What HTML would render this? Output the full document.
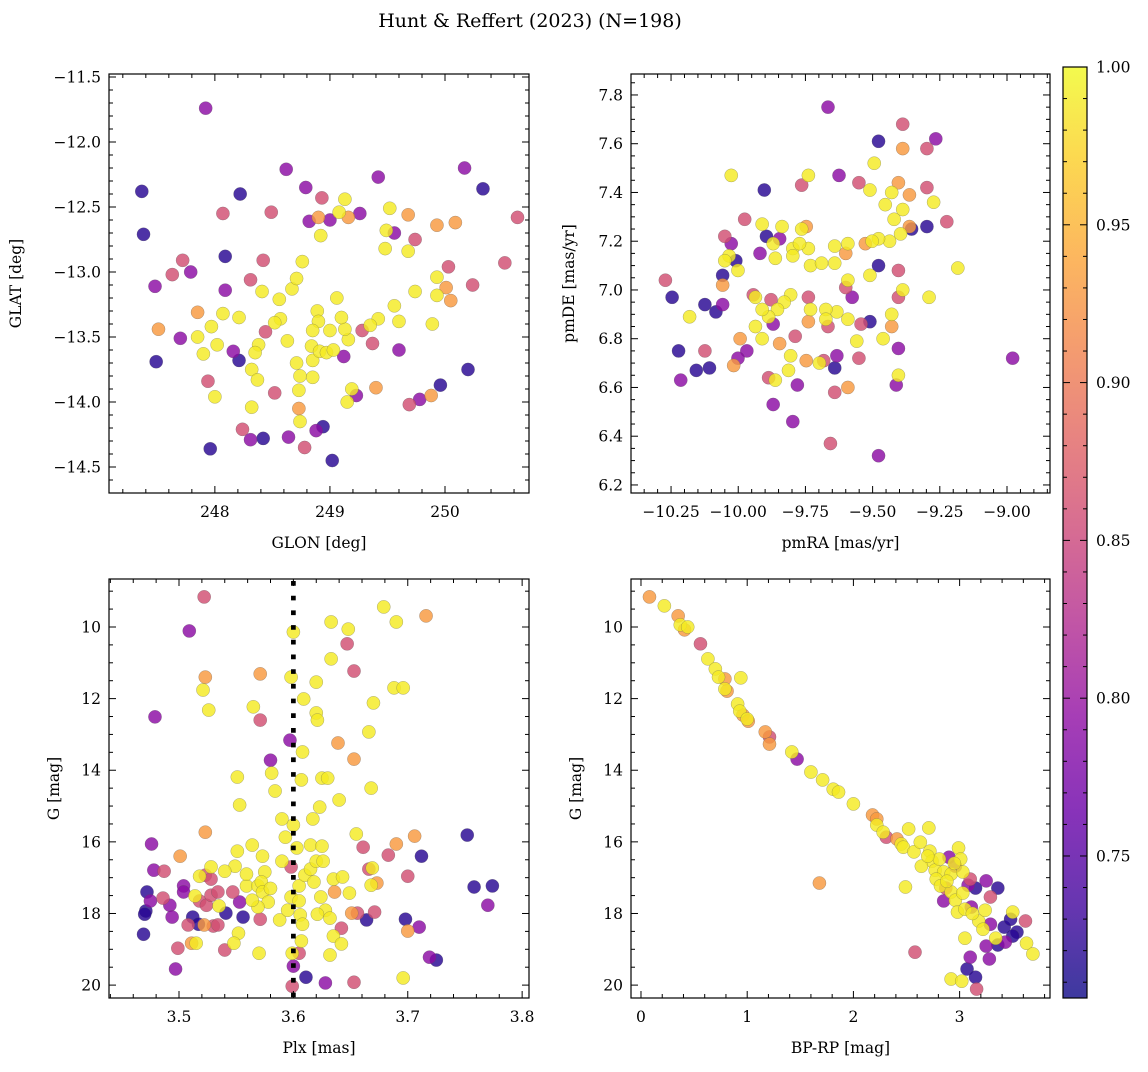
<!DOCTYPE html>
<html><head><meta charset="utf-8"><style>
body{margin:0;background:#fff;}
svg{font-family:"DejaVu Serif","Liberation Serif",serif;}
</style></head><body>
<svg id="fig" width="1148" height="1067" viewBox="0 0 1148 1067">
<defs><linearGradient id="cb" x1="0" y1="1" x2="0" y2="0">
<stop offset="0" stop-color="#0d0887"/><stop offset="0.1" stop-color="#41049d"/><stop offset="0.2" stop-color="#6a00a8"/><stop offset="0.3" stop-color="#8f0da4"/><stop offset="0.4" stop-color="#b12a90"/><stop offset="0.5" stop-color="#cc4778"/><stop offset="0.6" stop-color="#e16462"/><stop offset="0.7" stop-color="#f2844b"/><stop offset="0.8" stop-color="#fca636"/><stop offset="0.9" stop-color="#fcce25"/><stop offset="1" stop-color="#f0f921"/>
</linearGradient></defs>
<text x="530" y="27" font-size="19" text-anchor="middle">Hunt &amp; Reffert (2023) (N=198)</text>
</svg>
<script>
// ---- data (panel 1: GLON/GLAT) ----
const glon=[247.92,247.365,247.38,248.62,248.79,248.22,248.49,248.07,248.42,247.72,247.63,247.79,247.48,247.49,247.70,247.51,247.85,247.85,248.07,248.21,248.09,248.09,248.31,248.41,248.67,248.71,248.76,248.92,248.93,249.13,249.08,248.90,248.82,249.00,249.16,249.26,249.42,249.52,249.49,249.68,249.56,249.48,249.74,249.68,249.93,250.01,250.03,249.93,250.09,250.17,250.33,250.63,250.52,250.24,250.05,249.93,249.89,249.74,249.56,249.60,249.42,249.35,249.28,249.16,249.13,249.10,248.89,248.90,248.85,248.84,248.71,248.63,248.57,248.56,248.52,248.44,248.38,248.35,248.32,248.37,248.21,248.16,248.02,247.97,247.90,247.94,248.00,247.96,248.24,248.32,248.31,248.42,248.52,248.64,248.74,248.73,248.73,248.74,248.85,248.85,248.91,248.97,249.03,249.00,249.06,248.94,248.88,248.78,249.02,249.40,249.23,249.15,249.96,249.88,250.20,249.60,249.37,249.12,249.19,249.69,249.78];
const glat=[-11.74,-12.38,-12.71,-12.21,-12.35,-12.40,-12.54,-12.55,-12.91,-12.91,-13.02,-13.00,-13.11,-13.69,-13.51,-13.44,-13.31,-13.50,-13.32,-13.35,-13.14,-12.88,-13.06,-13.15,-13.13,-13.05,-12.92,-12.72,-12.43,-12.44,-12.54,-12.58,-12.61,-12.60,-12.58,-12.55,-12.27,-12.51,-12.68,-12.56,-12.70,-12.82,-12.75,-12.84,-13.04,-13.12,-12.96,-12.64,-12.62,-12.20,-12.36,-12.58,-12.93,-13.10,-13.22,-13.18,-13.40,-13.15,-13.26,-13.38,-13.36,-13.41,-13.45,-13.52,-13.44,-13.35,-13.30,-13.38,-13.45,-13.57,-13.70,-13.53,-13.36,-13.21,-13.39,-13.46,-13.56,-13.62,-13.75,-13.83,-13.68,-13.61,-13.56,-13.42,-13.63,-13.84,-13.96,-14.36,-14.21,-14.04,-14.29,-14.28,-13.93,-14.27,-14.15,-14.05,-13.91,-13.80,-13.81,-13.68,-13.61,-13.62,-13.60,-13.45,-13.20,-14.19,-14.22,-14.35,-14.45,-13.89,-13.95,-14.00,-13.87,-13.95,-13.75,-13.60,-13.55,-13.65,-13.90,-14.02,-13.98];
const prob1=[.79,.72,.72,.79,.79,.72,.86,.86,.86,.86,.86,.79,.79,.72,.79,.93,.93,.99,.99,.99,.79,.72,.86,.99,.99,.99,.99,.99,.86,.99,.99,.93,.79,.79,.93,.79,.79,.99,.99,.93,.79,.99,.86,.99,.99,.93,.86,.93,.93,.79,.72,.86,.86,.86,.93,.99,.99,.99,.99,.99,.99,.99,.86,.99,.99,.99,.99,.99,.99,.99,.99,.99,.99,.99,.99,.86,.99,.99,.99,.99,.72,.79,.99,.99,.99,.86,.99,.72,.86,.99,.79,.72,.86,.79,.99,.93,.99,.99,.99,.99,.99,.99,.99,.99,.99,.72,.79,.86,.72,.93,.79,.99,.72,.93,.72,.79,.86,.79,.99,.86,.79];
// ---- panel 2: pmRA/pmDE ----
const pmra=[-9.666,-9.478,-9.388,-9.265,-9.298,-9.388,-9.494,-10.026,-9.903,-9.739,-9.764,-9.625,-9.551,-9.510,-9.429,-9.404,-9.363,-9.298,-9.273,-9.388,-9.453,-9.420,-9.363,-9.355,-9.298,-9.224,-9.396,-9.437,-9.478,-9.502,-9.527,-9.592,-9.641,-9.739,-9.797,-9.870,-9.895,-9.846,-9.772,-9.764,-9.747,-9.837,-9.911,-9.976,-10.050,-10.026,-10.009,-10.034,-10.001,-10.050,-10.058,-9.919,-9.862,-9.797,-9.731,-9.690,-9.641,-9.600,-9.592,-9.510,-9.478,-9.600,-9.404,-9.183,-9.290,-9.404,-9.388,-9.576,-9.633,-9.674,-9.731,-9.739,-9.805,-9.829,-9.854,-9.887,-9.911,-9.936,-9.944,-9.878,-10.058,-10.058,-10.083,-10.124,-10.181,-10.271,-10.246,-9.936,-9.993,-9.968,-9.911,-9.870,-9.846,-9.788,-9.739,-9.666,-9.592,-9.674,-9.559,-9.543,-9.429,-9.429,-9.461,-9.510,-9.551,-9.633,-9.682,-9.747,-9.805,-9.862,-10.017,-10.001,-10.124,-10.156,-10.107,-9.813,-9.780,-9.698,-9.641,-9.887,-9.870,-9.797,-9.641,-9.592,-9.404,-9.404,-9.412,-9.657,-10.222,-10.214,-8.979,-9.478];
const pmde=[7.75,7.61,7.68,7.62,7.58,7.58,7.52,7.47,7.41,7.47,7.43,7.47,7.44,7.41,7.40,7.44,7.39,7.42,7.36,7.33,7.35,7.29,7.26,7.25,7.26,7.28,7.23,7.20,7.21,7.20,7.19,7.19,7.18,7.17,7.17,7.19,7.22,7.21,7.19,7.25,7.26,7.26,7.27,7.29,7.22,7.19,7.12,7.14,7.08,7.12,7.06,7.15,7.13,7.14,7.10,7.11,7.11,7.15,7.04,7.06,7.10,7.01,7.08,7.09,6.97,6.97,7.00,6.97,6.91,6.92,6.92,6.97,6.98,6.95,6.92,6.89,6.92,6.97,6.98,6.96,7.02,6.94,6.91,6.94,6.89,7.04,6.97,6.85,6.80,6.75,6.80,6.86,6.78,6.81,6.87,6.85,6.88,6.88,6.79,6.86,6.85,6.90,6.80,6.87,6.72,6.73,6.71,6.71,6.73,6.63,6.69,6.72,6.75,6.67,6.68,6.67,6.61,6.70,6.68,6.64,6.53,6.46,6.58,6.60,6.76,6.65,6.61,6.37,6.75,6.63,6.72,6.32];
const prob2=[.79,.72,.86,.79,.86,.93,.99,.99,.72,.99,.86,.79,.86,.99,.99,.93,.93,.86,.99,.99,.99,.99,.93,.72,.72,.86,.99,.99,.99,.99,.93,.99,.99,.99,.99,.99,.72,.79,.99,.99,.93,.99,.99,.86,.86,.79,.72,.99,.99,.99,.72,.79,.99,.99,.99,.99,.99,.93,.99,.99,.72,.86,.86,.99,.99,.86,.99,.79,.99,.99,.99,.86,.99,.99,.99,.99,.99,.99,.86,.86,.93,.79,.72,.72,.99,.86,.72,.99,.93,.79,.99,.79,.93,.86,.93,.86,.99,.99,.99,.86,.93,.99,.99,.72,.86,.79,.86,.93,.99,.99,.93,.79,.86,.72,.72,.99,.79,.99,.72,.86,.79,.79,.86,.93,.79,.99,.79,.86,.72,.79,.79,.79];
// ---- panel 3: Plx/G ----
const plx=[3.522,3.509,3.523,3.521,3.526,3.479,3.571,3.565,3.571,3.600,3.598,3.597,3.580,3.581,3.584,3.633,3.648,3.647,3.679,3.690,3.716,3.633,3.653,3.620,3.609,3.620,3.621,3.608,3.639,3.670,3.666,3.688,3.696,3.625,3.607,3.630,3.653,3.668,3.551,3.553,3.590,3.600,3.593,3.603,3.590,3.573,3.564,3.551,3.549,3.540,3.523,3.501,3.476,3.528,3.523,3.518,3.528,3.504,3.487,3.478,3.472,3.471,3.470,3.469,3.475,3.486,3.492,3.494,3.504,3.514,3.518,3.512,3.508,3.517,3.524,3.528,3.534,3.535,3.522,3.530,3.534,3.515,3.511,3.499,3.497,3.547,3.553,3.541,3.556,3.552,3.548,3.540,3.559,3.569,3.575,3.572,3.573,3.578,3.569,3.564,3.571,3.588,3.595,3.598,3.605,3.605,3.606,3.608,3.607,3.599,3.600,3.605,3.599,3.611,3.570,3.610,3.615,3.618,3.624,3.628,3.621,3.632,3.620,3.615,3.625,3.626,3.635,3.636,3.643,3.649,3.656,3.651,3.642,3.635,3.632,3.642,3.653,3.628,3.655,3.661,3.666,3.669,3.668,3.673,3.671,3.664,3.683,3.690,3.706,3.700,3.698,3.700,3.710,3.712,3.719,3.725,3.696,3.752,3.758,3.774,3.770,3.640,3.623,3.617,3.598,3.559,3.580];
const gmag3=[9.16,10.11,11.40,11.76,12.32,12.51,11.31,12.23,12.60,10.14,11.40,13.16,13.72,14.08,14.58,9.86,10.06,10.47,9.44,9.86,9.69,10.89,11.23,11.54,12.01,12.40,12.60,13.49,13.24,12.12,12.93,11.70,11.70,14.22,14.27,14.22,13.69,14.50,14.19,14.97,15.36,15.53,15.87,16.17,16.54,16.40,16.09,16.26,16.68,16.82,15.73,16.40,16.06,16.70,16.93,16.96,17.04,17.23,16.82,16.79,17.40,17.93,18.02,18.58,17.65,17.57,17.77,18.10,17.40,17.51,17.65,18.10,18.32,18.30,17.77,17.49,17.40,17.79,18.32,18.35,18.32,18.83,18.83,18.97,19.55,17.40,17.68,17.99,18.10,18.55,18.83,19.02,17.23,17.23,16.84,17.12,17.40,17.68,17.82,17.63,18.16,18.18,17.91,17.54,17.23,17.65,18.04,18.30,18.77,19.11,19.47,19.11,20.03,19.78,19.11,16.93,16.76,17.12,17.54,17.91,18.02,18.13,16.54,16.09,16.12,16.54,17.04,17.40,16.98,17.43,17.99,17.99,18.41,18.63,19.16,18.85,19.92,19.94,15.78,16.15,16.76,16.73,17.21,17.15,17.96,18.18,16.37,16.06,15.84,16.96,18.16,18.49,18.38,16.40,19.22,19.30,19.80,15.81,17.26,17.23,17.77,14.83,15.03,15.36,16.70,16.90,17.30];
const prob3=[.86,.79,.93,.99,.99,.79,.93,.99,.86,.99,.99,.79,.79,.99,.99,.99,.99,.86,.99,.99,.93,.99,.86,.99,.99,.99,.99,.99,.93,.99,.99,.99,.99,.99,.99,.99,.93,.99,.99,.99,.99,.99,.99,.99,.99,.99,.99,.99,.99,.99,.93,.93,.79,.99,.86,.99,.86,.79,.86,.79,.72,.72,.72,.72,.79,.86,.79,.79,.79,.99,.86,.72,.86,.72,.86,.86,.86,.99,.93,.86,.86,.99,.93,.86,.79,.86,.79,.72,.72,.99,.99,.86,.99,.99,.99,.99,.99,.99,.99,.99,.86,.99,.99,.99,.99,.99,.99,.99,.99,.99,.79,.86,.86,.72,.99,.99,.99,.99,.99,.99,.99,.99,.99,.99,.99,.99,.99,.93,.99,.99,.86,.93,.86,.99,.99,.99,.86,.79,.99,.86,.86,.99,.99,.93,.86,.72,.86,.93,.93,.86,.72,.93,.79,.72,.79,.72,.99,.72,.72,.72,.79,.99,.99,.99,.86,.99,.99];
// ---- panel 4: BP-RP/G ----
const bprp=[0.08,0.22,0.35,0.37,0.44,0.41,0.56,0.63,0.70,0.73,0.79,0.79,0.94,0.81,0.91,0.93,0.96,1.00,1.01,1.17,1.21,1.21,1.42,1.47,1.60,1.71,1.81,1.86,2.00,2.18,2.22,2.22,2.28,2.31,2.41,2.45,2.52,2.47,2.57,2.63,2.71,2.72,2.74,2.77,2.81,2.85,2.90,2.92,2.96,2.99,3.01,3.03,2.78,2.82,2.87,2.92,2.96,3.03,3.08,3.10,3.15,3.25,3.36,2.85,2.98,3.05,3.11,3.18,3.24,3.29,3.22,3.29,3.34,3.36,3.25,3.28,3.43,3.42,3.48,3.50,3.54,3.50,3.62,3.63,3.69,3.05,3.10,3.07,3.15,2.92,3.02,3.16,2.58,2.49,1.68,2.64,2.95,2.70,2.88,3.12];
const gmag4=[9.16,9.41,9.69,9.94,10.00,10.08,10.47,10.89,11.17,11.40,11.45,11.73,11.42,11.79,12.15,12.35,12.46,12.57,12.63,12.93,13.07,13.27,13.49,13.69,14.05,14.27,14.53,14.61,14.94,15.25,15.36,15.53,15.73,15.87,15.92,16.06,15.64,16.15,16.28,16.01,15.61,16.26,16.54,16.79,16.48,16.84,16.43,16.90,16.68,16.17,16.48,16.84,17.04,17.23,17.29,17.40,17.63,17.43,17.21,17.04,17.29,17.09,17.29,17.65,17.96,17.88,17.82,18.21,17.91,17.54,18.44,18.30,18.69,18.88,18.91,19.27,18.80,18.38,18.16,17.96,18.52,18.63,18.21,18.83,19.13,18.69,19.22,19.55,19.78,19.83,19.89,20.11,19.08,17.26,17.15,16.68,16.60,16.40,17.10,18.00];
const prob4=[.93,.99,.93,.99,.99,.93,.86,.99,.99,.99,.93,.99,.99,.93,.99,.99,.93,.99,.93,.93,.86,.93,.99,.79,.99,.99,.99,.99,.99,.93,.93,.99,.99,.86,.93,.99,.99,.99,.99,.99,.99,.99,.99,.99,.99,.99,.79,.99,.79,.99,.99,.99,.99,.99,.86,.99,.99,.99,.79,.86,.72,.79,.72,.79,.99,.99,.79,.99,.99,.86,.99,.79,.99,.72,.79,.79,.79,.72,.72,.99,.72,.72,.86,.99,.99,.99,.79,.72,.72,.99,.99,.86,.86,.99,.93,.99,.99,.99,.99,.99];
const cbTicks=[0.75,0.80,0.85,0.90,0.95,1.00];
const VMIN=0.705,VMAX=1.0;

const NS="http://www.w3.org/2000/svg";
const svg=document.getElementById('fig');
const stops=[[13,8,135],[65,4,157],[106,0,168],[143,13,164],[177,42,144],[204,71,120],[225,100,98],[242,132,75],[252,166,54],[252,206,37],[240,249,33]];
function plasma(p){let t=Math.max(0,Math.min(1,(p-VMIN)/(VMAX-VMIN)))*10;let i=Math.min(9,Math.floor(t));let f=t-i;const a=stops[i],b=stops[i+1];return 'rgb('+a.map((v,k)=>Math.round(v+(b[k]-v)*f)).join(',')+')';}
function mk(tag,attrs,parent){const e=document.createElementNS(NS,tag);for(const k in attrs)e.setAttribute(k,attrs[k]);(parent||svg).appendChild(e);return e;}
function fmt(v,d){return (v<0?'\u2212':'')+Math.abs(v).toFixed(d);}

function panel(o){
  const g=mk('g',{});
  
  
  const sx=v=>o.x0+(v-o.xd[0])/(o.xd[1]-o.xd[0])*(o.x1-o.x0);
  const sy=v=>o.y0+(v-o.yd[0])/(o.yd[1]-o.yd[0])*(o.y1-o.y0);
  const clip='c'+o.name;
  const cp=mk('clipPath',{id:clip},g);mk('rect',{x:o.x0,y:o.y0,width:o.x1-o.x0,height:o.y1-o.y0},cp);
  const pg=mk('g',{'clip-path':'url(#'+clip+')'},g);
  const idx=o.xs.map((_,i)=>i).sort((a,b)=>o.ps[a]-o.ps[b]);
  for(const i of idx){
    const c=mk('circle',{cx:sx(o.xs[i]),cy:sy(o.ys[i]),r:6.6,fill:plasma(o.ps[i]),'fill-opacity':0.82,stroke:'#555','stroke-width':0.4,'stroke-opacity':0.6},pg);
    
    
  }
  if(o.vline!==undefined){
    const l=mk('line',{x1:sx(o.vline),x2:sx(o.vline),y1:o.y0+2,y2:o.y1,stroke:'#000','stroke-width':4.7,'stroke-dasharray':'4.7,10'},pg);
    
    
  }
  mk('rect',{x:o.x0,y:o.y0,width:o.x1-o.x0,height:o.y1-o.y0,fill:'none',stroke:'#000','stroke-width':1.2},g);
  const eps=1e-9;
  for(let k=Math.ceil(o.xd[0]/o.xmin-eps);k*o.xmin<=o.xd[1]+eps;k++){
    const v=k*o.xmin;const X=sx(v);const major=Math.abs(v/o.xmaj-Math.round(v/o.xmaj))<1e-6;const L=major?7:4;
    mk('line',{x1:X,x2:X,y1:o.y1,y2:o.y1-L,stroke:'#000','stroke-width':1},g);
    mk('line',{x1:X,x2:X,y1:o.y0,y2:o.y0+L,stroke:'#000','stroke-width':1},g);
    if(major){const t=mk('text',{x:X,y:o.y1+24,'font-size':15.5,'text-anchor':'middle'},g);t.textContent=fmt(Math.round(v/o.xmaj)*o.xmaj,o.xdec);
      }
  }
  const ylo=Math.min(o.yd[0],o.yd[1]),yhi=Math.max(o.yd[0],o.yd[1]);
  for(let k=Math.ceil(ylo/o.ymin-eps);k*o.ymin<=yhi+eps;k++){
    const v=k*o.ymin;const Y=sy(v);const major=Math.abs(v/o.ymaj-Math.round(v/o.ymaj))<1e-6;const L=major?7:4;
    mk('line',{x1:o.x0,x2:o.x0+L,y1:Y,y2:Y,stroke:'#000','stroke-width':1},g);
    mk('line',{x1:o.x1,x2:o.x1-L,y1:Y,y2:Y,stroke:'#000','stroke-width':1},g);
    if(major){const t=mk('text',{x:o.x0-8,y:Y+5.5,'font-size':15.5,'text-anchor':'end'},g);t.textContent=fmt(Math.round(v/o.ymaj)*o.ymaj,o.ydec);
      }
  }
  const xl=mk('text',{x:(o.x0+o.x1)/2,y:o.y1+55,'font-size':15.5,'text-anchor':'middle'},g);xl.textContent=o.xlabel;
  
  const yx=o.x0-o.ylo;const yl=mk('text',{x:yx,y:(o.y0+o.y1)/2,'font-size':15.5,'text-anchor':'middle',transform:'rotate(-90 '+yx+' '+(o.y0+o.y1)/2+')'},g);yl.textContent=o.ylabel;
  
}
panel({name:'glon-glat-panel',x0:109,x1:529,y0:74,y1:493,xd:[247.08,250.73],yd:[-11.477,-14.70],xs:glon,ys:glat,ps:prob1,xmaj:1,xmin:0.2,ymaj:0.5,ymin:0.1,xdec:0,ydec:1,xlabel:'GLON [deg]',ylabel:'GLAT [deg]',ylo:88});
panel({name:'pm-panel',x0:631,x1:1050,y0:74,y1:493,xd:[-10.399,-8.84],yd:[7.886,6.167],xs:pmra,ys:pmde,ps:prob2,xmaj:0.25,xmin:0.05,ymaj:0.2,ymin:0.05,xdec:2,ydec:1,xlabel:'pmRA [mas/yr]',ylabel:'pmDE [mas/yr]',ylo:57});
panel({name:'plx-g-panel',x0:109,x1:529,y0:579,y1:998,xd:[3.4388,3.806],yd:[8.66,20.36],xs:plx,ys:gmag3,ps:prob3,xmaj:0.1,xmin:0.02,ymaj:2,ymin:0.5,xdec:1,ydec:0,xlabel:'Plx [mas]',ylabel:'G [mag]',ylo:50,vline:3.6});
panel({name:'cmd-panel',x0:631,x1:1050,y0:579,y1:998,xd:[-0.094,3.851],yd:[8.66,20.36],xs:bprp,ys:gmag4,ps:prob4,xmaj:1,xmin:0.2,ymaj:2,ymin:0.5,xdec:0,ydec:0,xlabel:'BP-RP [mag]',ylabel:'G [mag]',ylo:50});

const cb=mk('g',{});


const cx0=1063,cx1=1087,cy0=67,cy1=998;
const cy=v=>cy1-(v-VMIN)/(VMAX-VMIN)*(cy1-cy0);
mk('rect',{x:cx0,y:cy0,width:cx1-cx0,height:cy1-cy0,fill:'url(#cb)','fill-opacity':0.8},cb);
mk('rect',{x:cx0,y:cy0,width:cx1-cx0,height:cy1-cy0,fill:'none',stroke:'#000','stroke-width':1.2},cb);
for(let k=71;k<=100;k++){const v=k/100;const Y=cy(v);const major=(k%5===0);
  mk('line',{x1:cx1,x2:cx1-(major?7:4),y1:Y,y2:Y,stroke:'#000','stroke-width':1},cb);
  mk('line',{x1:cx0,x2:cx0+(major?7:4),y1:Y,y2:Y,stroke:'#000','stroke-width':1},cb);}
for(const v of cbTicks){const t=mk('text',{x:cx1+9,y:cy(v)+5.5,'font-size':15.5},cb);t.textContent=v.toFixed(2);
  }
</script>
</body></html>
